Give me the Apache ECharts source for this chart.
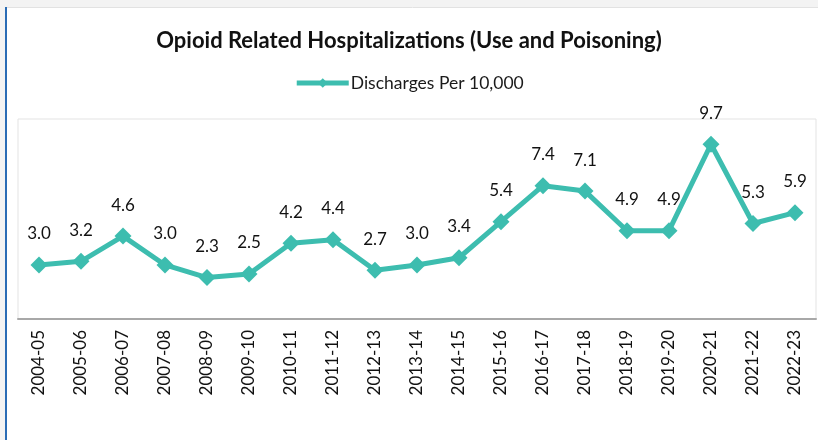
<!DOCTYPE html>
<html>
<head>
<meta charset="utf-8">
<title>Opioid Related Hospitalizations</title>
<script src="https://cdn.jsdelivr.net/npm/echarts@6/dist/echarts.min.js"></script>
<style>
  html, body { margin: 0; padding: 0; background: #fff; }
  #chart { width: 818px; height: 440px; }
</style>
</head>
<body>
<div id="chart"></div>
<script>
// 数据
const years = ['2004-05', '2005-06', '2006-07', '2007-08', '2008-09', '2009-10', '2010-11',
  '2011-12', '2012-13', '2013-14', '2014-15', '2015-16', '2016-17', '2017-18', '2018-19',
  '2019-20', '2020-21', '2021-22', '2022-23']
const discharges = [3.0, 3.2, 4.6, 3.0, 2.3, 2.5, 4.2, 4.4, 2.7, 3.0, 3.4, 5.4, 7.4, 7.1, 4.9, 4.9, 9.7, 5.3, 5.9]
const seriesName = 'Discharges Per 10,000'
const chartTitle = 'Opioid Related Hospitalizations (Use and Poisoning)'

const teal = '#3dbdaf'
const font = 'Lato, "Open Sans", sans-serif'

const myChart = echarts.init(document.getElementById('chart'))
myChart.setOption({
  backgroundColor: '#ffffff',
  animation: false,
  // 外框
  graphic: [
    { type: 'rect', shape: { x: 0, y: 0, width: 818, height: 7 }, style: { fill: '#f3f3f3' }, silent: true },
    { type: 'rect', shape: { x: 0, y: 0, width: 5, height: 440 }, style: { fill: '#f3f3f3' }, silent: true },
    { type: 'rect', shape: { x: 5, y: 7, width: 2, height: 433 }, style: { fill: '#2a6cb5' }, silent: true },
    { type: 'line', shape: { x1: 7, y1: 7.5, x2: 818, y2: 7.5 }, style: { stroke: '#e2e2e2', lineWidth: 1 }, silent: true }
  ],
  title: {
    text: chartTitle,
    left: 'center',
    top: 30,
    padding: 0,
    textStyle: {
      fontFamily: font,
      fontSize: 22,
      fontWeight: 'bold',
      color: '#111'
    }
  },
  legend: {
    data: [seriesName],
    top: 69,
    left: 'center',
    itemWidth: 52,
    itemHeight: 12,
    itemGap: 10,
    lineStyle: { width: 5 },
    textStyle: {
      fontFamily: font,
      fontSize: 17.5,
      color: '#1a1a1a',
      padding: [0, 0, 0, -3]
    }
  },
  grid: {
    left: 18,
    right: 2,
    top: 119,
    bottom: 121,
    show: true,
    borderColor: '#e3e3e3',
    borderWidth: 1
  },
  xAxis: {
    type: 'category',
    data: years,
    boundaryGap: true,
    axisLine: { lineStyle: { color: '#a8a8a8', width: 2 } },
    axisTick: { show: false },
    axisLabel: {
      rotate: 90,
      margin: 11,
      interval: 0,
      fontFamily: font,
      fontSize: 17,
      color: '#111'
    }
  },
  yAxis: {
    type: 'value',
    min: 0,
    max: 11.1,
    show: false,
    splitLine: { show: false }
  },
  series: [
    {
      name: seriesName,
      type: 'line',
      data: discharges,
      symbol: 'diamond',
      symbolSize: 17,
      itemStyle: { color: teal },
      lineStyle: { color: teal, width: 5 },
      label: {
        show: true,
        position: 'top',
        distance: 14,
        formatter: (p) => p.value.toFixed(1),
        fontFamily: font,
        fontSize: 17,
        color: '#111'
      }
    }
  ]
})
window.addEventListener('resize', () => {
  myChart.resize()
})
</script>
</body>
</html>
